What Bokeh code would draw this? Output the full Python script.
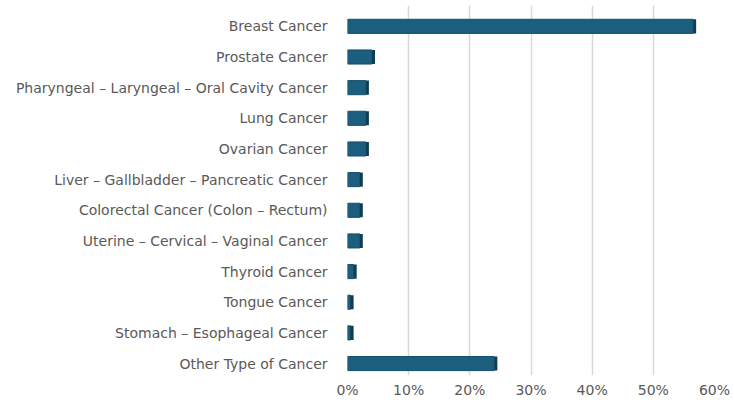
from bokeh.plotting import figure
from bokeh.embed import file_html
from bokeh.resources import INLINE
from bokeh.models import ColumnDataSource, NumeralTickFormatter, FixedTicker, Range1d

categories = [
    "Breast Cancer",
    "Prostate Cancer",
    "Pharyngeal \u2013 Laryngeal \u2013 Oral Cavity Cancer",
    "Lung Cancer",
    "Ovarian Cancer",
    "Liver \u2013 Gallbladder \u2013 Pancreatic Cancer",
    "Colorectal Cancer (Colon \u2013 Rectum)",
    "Uterine \u2013 Cervical \u2013 Vaginal Cancer",
    "Thyroid Cancer",
    "Tongue Cancer",
    "Stomach \u2013 Esophageal Cancer",
    "Other Type of Cancer",
]
values = [0.565, 0.04, 0.03, 0.03, 0.03, 0.02, 0.02, 0.02, 0.01, 0.005, 0.005, 0.24]
x_ticks = [0, 0.1, 0.2, 0.3, 0.4, 0.5, 0.6]

n = len(categories)
ypos = [n - 1 - i for i in range(n)]

src = ColumnDataSource(dict(y=ypos, v=values, cat=categories,
                            v2=[v + 0.005 for v in values]))

p = figure(width=732, height=406, output_backend="svg", toolbar_location=None,
           x_range=Range1d(0, 0.6), y_range=Range1d(-0.39, n - 1 + 0.68),
           min_border_left=347, min_border_right=18, min_border_top=5,
           min_border_bottom=31)
p.outline_line_color = None
p.background_fill_color = "white"

# main bar face
p.hbar(y="y", left=0, right="v", height=0.46, source=src,
       fill_color="#1b5e7d", line_color="#164f69", line_width=1)
# darker side face (pseudo-3D)
p.hbar(y="y", left="v", right="v2", height=0.46, source=src,
       fill_color="#113d52", line_color=None)

p.xaxis.ticker = FixedTicker(ticks=x_ticks)
p.xaxis.formatter = NumeralTickFormatter(format="0%")
p.yaxis.ticker = FixedTicker(ticks=ypos)
p.yaxis.major_label_overrides = {y: c for y, c in zip(ypos, categories)}

for ax in (p.xaxis, p.yaxis):
    ax.axis_line_color = None
    ax.major_tick_line_color = None
    ax.minor_tick_line_color = None
    ax.major_label_text_color = "#595959"
    ax.major_label_text_font = "DejaVu Sans"
    ax.major_label_text_font_size = "14px"

p.yaxis.major_label_standoff = 14
p.xaxis.major_label_standoff = 0

p.ygrid.grid_line_color = None
p.xgrid.ticker = FixedTicker(ticks=x_ticks)
p.xgrid.grid_line_color = "#d9d9d9"
p.xgrid.grid_line_width = 1.5

open("out.html", "w").write(file_html(p, INLINE))
